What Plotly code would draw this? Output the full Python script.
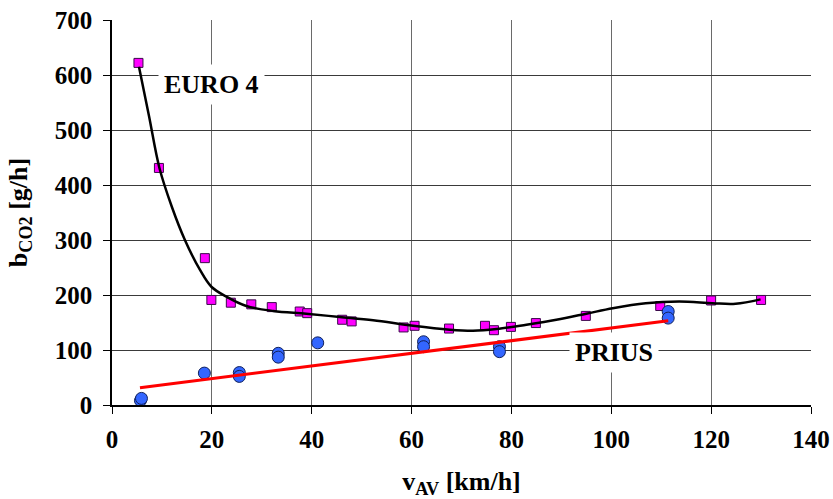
import plotly.graph_objects as go

# EURO 4 measured points
euro_x = [5.3, 9.4, 18.6, 19.9, 23.8, 27.9, 32.0, 37.6, 39.1, 46.1, 48.0, 58.4, 60.6, 67.5, 74.7, 76.5, 79.9, 84.9, 94.9, 109.8, 120.0, 130.0]
euro_y = [622, 431, 267, 191, 186, 183, 178, 170, 167, 155, 152, 141, 144, 139, 144, 136, 142, 149, 162, 180, 190, 191]

# EURO 4 trend curve
euro_fit_x = [5.4, 7.4, 9.5, 12.0, 14.6, 17.6, 19.9, 22.9, 26.9, 32.3, 38.9, 45.6, 52.3, 60.3, 67.6, 72.3, 77.0, 83.0, 89.0, 95.0, 100.3, 106.9, 113.6, 120.3, 124.9, 129.9]
euro_fit_y = [615, 526, 431, 360, 300, 246, 215, 197, 180, 171, 166, 160, 154, 144, 137, 135, 138, 146, 155, 166, 176, 185, 188, 185, 184, 192]

# PRIUS measured points
prius_x = [5.7, 5.9, 18.5, 25.5, 25.5, 33.3, 33.3, 41.2, 62.4, 62.4, 77.6, 77.6, 111.4, 111.4]
prius_y = [8, 12, 58, 59, 52, 94, 87, 113, 115, 106, 106, 97, 170, 158]

# PRIUS linear trend (end points)
prius_fit_x = [5.6, 111.4]
prius_fit_y = [31.5, 153]

x_ticks = [0, 20, 40, 60, 80, 100, 120, 140]
y_ticks = [0, 100, 200, 300, 400, 500, 600, 700]

FONT = "Liberation Serif"

fig = go.Figure()
fig.add_trace(go.Scatter(
    x=euro_x, y=euro_y, mode="markers",
    marker=dict(symbol="square", size=9, color="#FF00FF", line=dict(color="#3a0a4a", width=1)),
    showlegend=False))
fig.add_trace(go.Scatter(
    x=prius_x, y=prius_y, mode="markers",
    marker=dict(symbol="circle", size=12, color="#3366FF", line=dict(color="#10205a", width=1)),
    showlegend=False))
fig.add_trace(go.Scatter(
    x=euro_fit_x, y=euro_fit_y, mode="lines",
    line=dict(color="black", width=2.5, shape="spline", smoothing=1.0),
    showlegend=False))
fig.add_trace(go.Scatter(
    x=prius_fit_x, y=prius_fit_y, mode="lines",
    line=dict(color="#FF0000", width=3),
    showlegend=False))

fig.add_annotation(x=20, y=582, text="<b>EURO 4</b>", showarrow=False,
                   font=dict(family=FONT, size=26, color="black"),
                   bgcolor="white", borderpad=5)
fig.add_annotation(x=100.6, y=96, text="<b>PRIUS</b>", showarrow=False,
                   font=dict(family=FONT, size=26, color="black"),
                   bgcolor="white", borderpad=5)

fig.update_layout(
    width=833, height=499,
    margin=dict(l=112, r=22, t=20, b=94),
    plot_bgcolor="white", paper_bgcolor="white",
    font=dict(family=FONT, color="black"),
)
fig.update_xaxes(
    range=[0, 140], tickvals=x_ticks, ticktext=["<b>%d</b>" % v for v in x_ticks],
    showgrid=True, gridcolor="#6a6a6a", gridwidth=1,
    showline=True, linecolor="black", linewidth=1.5,
    ticks="outside", ticklen=7, tickcolor="black",
    tickfont=dict(family=FONT, size=25), ticklabelstandoff=4,
    zeroline=False, automargin=False,
    title=dict(text="<b>v<sub>AV</sub> [km/h]</b>", font=dict(family=FONT, size=26), standoff=26),
)
fig.update_yaxes(
    range=[0, 700], tickvals=y_ticks, ticktext=["<b>%d</b>" % v for v in y_ticks],
    showgrid=True, gridcolor="#3a3a3a", gridwidth=1,
    showline=True, linecolor="black", linewidth=1.5,
    ticks="outside", ticklen=7, tickcolor="black",
    tickfont=dict(family=FONT, size=25), ticklabelstandoff=6,
    zeroline=False, automargin=False,
    title=dict(text="<b>b<sub>CO2</sub> [g/h]</b>", font=dict(family=FONT, size=26), standoff=20),
)

fig.write_html("out.html")
